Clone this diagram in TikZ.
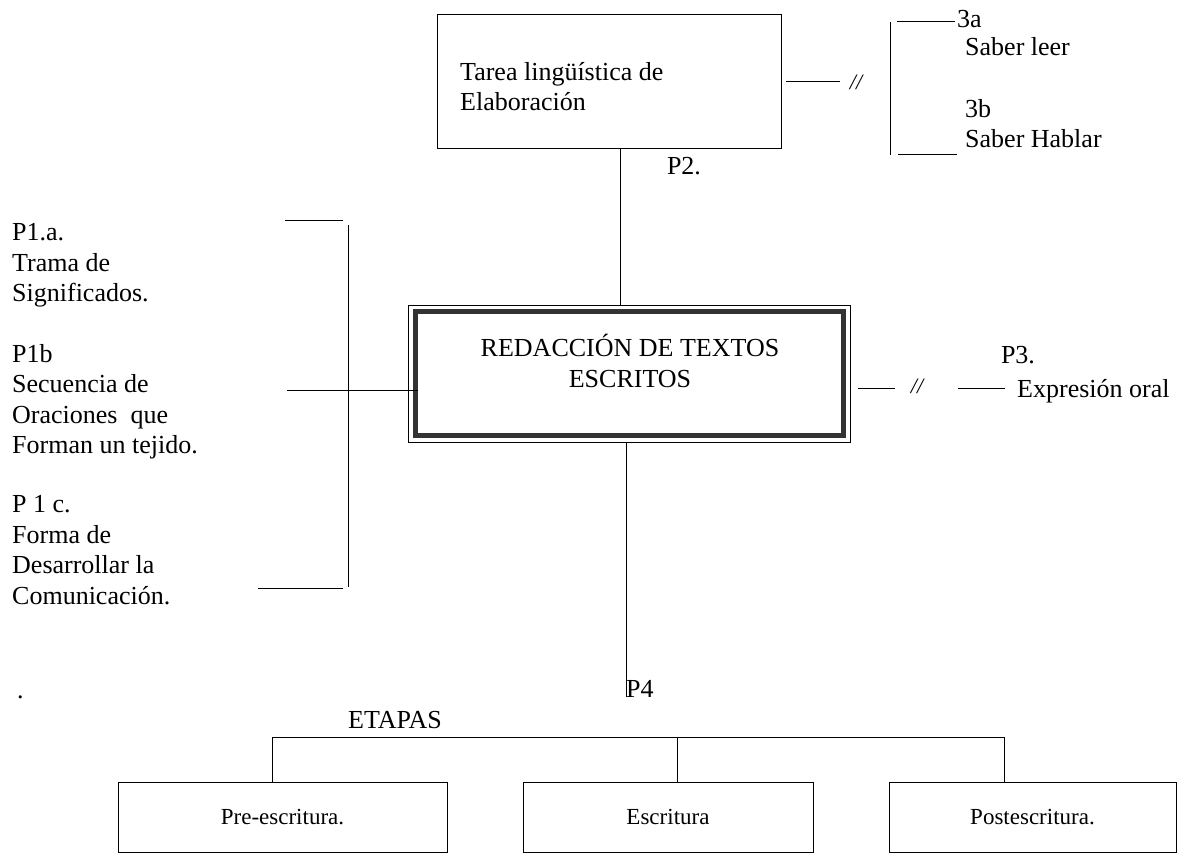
\documentclass[tikz,border=0pt]{standalone}
\usepackage{fontspec}
\setmainfont{Liberation Serif}
\usetikzlibrary{positioning,calc}

\begin{document}
\begin{tikzpicture}[
    x=1pt, y=-1pt,
    every node/.style={font=\fontsize{26}{30.4}\selectfont},
    box/.style={
      draw,
      line width=1pt,
      inner sep=0pt
    },
    txt/.style={
      inner sep=0pt,
      align=left,
      anchor=base west
    },
    stagebox/.style={
      box,
      minimum height=70pt,
      font=\fontsize{23}{27}\selectfont
    },
    slash/.style={
      inner sep=0pt,
      font=\fontsize{22}{24}\selectfont\itshape
    },
    ln/.style={line width=1pt},
    frame/.style={draw=black!80, line width=5pt}
  ]
    \useasboundingbox (0,0) rectangle (1197,856);

    \node[box, minimum width=344pt, minimum height=134pt] (tarea) at (609,82) {};
    \node[txt] (tareatxt) at (460,111) {Tarea lingüística de\\Elaboración};
    \node[box, minimum width=442pt, minimum height=137pt] (redac) at (629,373.5) {};
    \draw[frame] ($(redac.north west)+(7.5pt,-7pt)$) rectangle ($(redac.south east)+(-7.5pt,7pt)$);
    \node[inner sep=0pt, align=center] (redactxt) at (630,361) {REDACCIÓN DE TEXTOS\\ESCRITOS};

    \node[inner sep=0pt] (p2) at (684,166) {P2.};
    \node[slash] (slash2) at (856,82) {//};
    \node[txt] (k3a) at (957,28) {3a};
    \node[txt] (leer) at (965,56) {Saber leer};
    \node[txt] (k3b) at (965,118) {3b};
    \node[txt] (hablar) at (965,148) {Saber Hablar};

    \node[txt] (p1a) at (12,301.5) {P1.a.\\Trama de\\Significados.};
    \node[txt] (p1b) at (12,453.5) {P1b\\Secuencia de\\Oraciones \ que\\Forman un tejido.};
    \node[txt] (p1c) at (12,604) {P 1 c.\\Forma de\\Desarrollar la\\Comunicación.};

    \node[inner sep=0pt] (p3) at (1018,355) {P3.};
    \node[slash] (slash3) at (917,386) {//};
    \node[txt] (expr) at (1017,397) {Expresión oral};

    \node[txt] (p4) at (626,697) {P4};
    \node[txt] (dot) at (17,698) {.};
    \node (etapas) at (395,720) {ETAPAS};

    \node[stagebox, minimum width=329pt] (pre) at (282.5,817) {Pre-escritura.};
    \node[stagebox, minimum width=290pt] (esc) at (668,817) {Escritura};
    \node[stagebox, minimum width=287pt] (post) at (1032.5,817) {Postescritura.};

    \coordinate (b1) at (272,737);
    \coordinate (b2) at (677,737);
    \coordinate (b3) at (1004,737);
    \coordinate (lt) at (348,225);
    \coordinate (lb) at (348,587);
    \coordinate (lm) at (287,390);
    \coordinate (rt) at (890,22);
    \coordinate (rb) at (890,155);
    \coordinate (r1) at (858,388);
    \coordinate (r2) at (895,388);
    \coordinate (r3) at (958,388);
    \coordinate (r4) at (1005,388);

    \draw[ln] ([xshift=11pt]tarea.south) -- ([xshift=-9pt]redac.north);
    \draw[ln] ([xshift=-3pt]redac.south) -- (p4.base west);
    \draw[ln] ([xshift=4pt]tarea.east |- slash2) -- ([xshift=-10pt]slash2.west);
    \draw[ln] (rt) -- (rb);
    \draw[ln] ([xshift=7pt]rt) -- ++(58pt,0);
    \draw[ln] ([xshift=8pt]rb) -- ++(59pt,0);
    \draw[ln] (lt) -- (lb);
    \draw[ln] ([shift={(-5pt,5pt)}]lt) -- ++(-58pt,0);
    \draw[ln] ([shift={(-5pt,-1pt)}]lb) -- ++(-85pt,0);
    \draw[ln] (lm) -- ([xshift=10pt]redac.west |- lm);
    \draw[ln] (r1) -- (r2);
    \draw[ln] (r3) -- (r4);
    \draw[ln] (b1) -- (b3);
    \draw[ln] (b1) -- (b1 |- pre.north);
    \draw[ln] (b2) -- (b2 |- esc.north);
    \draw[ln] (b3) -- (b3 |- post.north);
  \end{tikzpicture}
\end{document}
